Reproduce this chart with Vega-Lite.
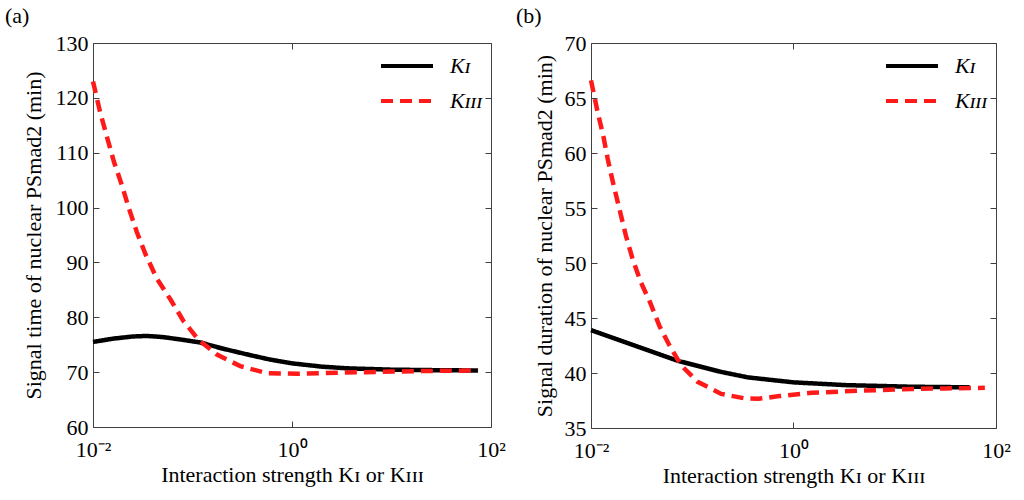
{
  "$schema": "https://vega.github.io/schema/vega-lite/v6.json",
  "background": "#ffffff",
  "padding": {"left": 5, "top": 5, "right": 5, "bottom": 5},
  "spacing": 10,
  "resolve": {"legend": {"color": "independent", "strokeDash": "independent"}},
  "config": {
    "font": "Liberation Serif",
    "view": {"stroke": null},
    "axis": {
      "grid": false,
      "domainColor": "#404040",
      "tickColor": "#404040",
      "tickSize": -6,
      "labelFont": "Liberation Serif",
      "titleFont": "Liberation Serif",
      "labelFontSize": 22,
      "titleFontSize": 22,
      "labelColor": "#000000",
      "titleColor": "#000000",
      "titleFontWeight": "normal",
      "labelPadding": 11
    },
    "legend": {
      "labelFont": "Liberation Serif",
      "labelFontSize": 22,
      "labelFontStyle": "italic",
      "labelColor": "#000000",
      "symbolType": "M-2,0H2",
      "symbolSize": 676,
      "symbolStrokeWidth": 4,
      "labelOffset": 28,
      "rowPadding": 9
    },
    "title": {"font": "Liberation Serif", "fontSize": 22, "fontWeight": "normal", "anchor": "start", "frame": "bounds", "dx": -17, "offset": 4}
  },
  "datasets": {
    "curves": [
      {"panel": "a", "series": "K_I", "x": 0.01, "y": 75.5},
      {"panel": "a", "series": "K_I", "x": 0.0158, "y": 76.1},
      {"panel": "a", "series": "K_I", "x": 0.0251, "y": 76.5},
      {"panel": "a", "series": "K_I", "x": 0.0347, "y": 76.6},
      {"panel": "a", "series": "K_I", "x": 0.05, "y": 76.4},
      {"panel": "a", "series": "K_I", "x": 0.0794, "y": 75.9},
      {"panel": "a", "series": "K_I", "x": 0.12, "y": 75.4},
      {"panel": "a", "series": "K_I", "x": 0.2, "y": 74.3},
      {"panel": "a", "series": "K_I", "x": 0.38, "y": 73.1},
      {"panel": "a", "series": "K_I", "x": 0.6, "y": 72.3},
      {"panel": "a", "series": "K_I", "x": 1.0, "y": 71.6},
      {"panel": "a", "series": "K_I", "x": 2.0, "y": 71.0},
      {"panel": "a", "series": "K_I", "x": 3.55, "y": 70.7},
      {"panel": "a", "series": "K_I", "x": 10, "y": 70.45},
      {"panel": "a", "series": "K_I", "x": 31.6, "y": 70.35},
      {"panel": "a", "series": "K_I", "x": 74.1, "y": 70.3},
      {"panel": "a", "series": "K_III", "x": 0.01, "y": 123.0},
      {"panel": "a", "series": "K_III", "x": 0.01175, "y": 117.5},
      {"panel": "a", "series": "K_III", "x": 0.0138, "y": 112.9},
      {"panel": "a", "series": "K_III", "x": 0.0162, "y": 108.4},
      {"panel": "a", "series": "K_III", "x": 0.0195, "y": 104.1},
      {"panel": "a", "series": "K_III", "x": 0.0229, "y": 99.9},
      {"panel": "a", "series": "K_III", "x": 0.0275, "y": 95.6},
      {"panel": "a", "series": "K_III", "x": 0.0339, "y": 91.4},
      {"panel": "a", "series": "K_III", "x": 0.0437, "y": 87.1},
      {"panel": "a", "series": "K_III", "x": 0.0603, "y": 83.2},
      {"panel": "a", "series": "K_III", "x": 0.0813, "y": 79.3},
      {"panel": "a", "series": "K_III", "x": 0.115, "y": 75.9},
      {"panel": "a", "series": "K_III", "x": 0.176, "y": 73.2},
      {"panel": "a", "series": "K_III", "x": 0.302, "y": 71.1},
      {"panel": "a", "series": "K_III", "x": 0.562, "y": 69.8},
      {"panel": "a", "series": "K_III", "x": 1.12, "y": 69.7},
      {"panel": "a", "series": "K_III", "x": 3.16, "y": 69.9},
      {"panel": "a", "series": "K_III", "x": 10, "y": 70.1},
      {"panel": "a", "series": "K_III", "x": 31.6, "y": 70.25},
      {"panel": "a", "series": "K_III", "x": 74.1, "y": 70.3},
      {"panel": "b", "series": "K_I", "x": 0.01, "y": 43.9},
      {"panel": "b", "series": "K_I", "x": 0.0158, "y": 43.25},
      {"panel": "b", "series": "K_I", "x": 0.0288, "y": 42.4},
      {"panel": "b", "series": "K_I", "x": 0.0724, "y": 41.1},
      {"panel": "b", "series": "K_I", "x": 0.193, "y": 40.1},
      {"panel": "b", "series": "K_I", "x": 0.355, "y": 39.6},
      {"panel": "b", "series": "K_I", "x": 1.0, "y": 39.15},
      {"panel": "b", "series": "K_I", "x": 3.24, "y": 38.9},
      {"panel": "b", "series": "K_I", "x": 14.8, "y": 38.75},
      {"panel": "b", "series": "K_I", "x": 55, "y": 38.7},
      {"panel": "b", "series": "K_III", "x": 0.01, "y": 66.6},
      {"panel": "b", "series": "K_III", "x": 0.01164, "y": 63.7},
      {"panel": "b", "series": "K_III", "x": 0.0132, "y": 61.6},
      {"panel": "b", "series": "K_III", "x": 0.0146, "y": 59.5},
      {"panel": "b", "series": "K_III", "x": 0.0164, "y": 57.4},
      {"panel": "b", "series": "K_III", "x": 0.0191, "y": 54.9},
      {"panel": "b", "series": "K_III", "x": 0.0221, "y": 52.5},
      {"panel": "b", "series": "K_III", "x": 0.0257, "y": 50.4},
      {"panel": "b", "series": "K_III", "x": 0.0309, "y": 48.3},
      {"panel": "b", "series": "K_III", "x": 0.038, "y": 46.5},
      {"panel": "b", "series": "K_III", "x": 0.0473, "y": 44.3},
      {"panel": "b", "series": "K_III", "x": 0.0596, "y": 42.5},
      {"panel": "b", "series": "K_III", "x": 0.0776, "y": 40.7},
      {"panel": "b", "series": "K_III", "x": 0.113, "y": 39.2},
      {"panel": "b", "series": "K_III", "x": 0.193, "y": 38.1},
      {"panel": "b", "series": "K_III", "x": 0.327, "y": 37.7},
      {"panel": "b", "series": "K_III", "x": 0.45, "y": 37.65},
      {"panel": "b", "series": "K_III", "x": 0.724, "y": 37.9},
      {"panel": "b", "series": "K_III", "x": 1.51, "y": 38.2},
      {"panel": "b", "series": "K_III", "x": 4.79, "y": 38.4},
      {"panel": "b", "series": "K_III", "x": 14.8, "y": 38.55},
      {"panel": "b", "series": "K_III", "x": 31.6, "y": 38.6},
      {"panel": "b", "series": "K_III", "x": 77.6, "y": 38.65}
    ]
  },
  "hconcat": [
    {
      "title": {"text": "(a)"},
      "width": 398,
      "height": 384,
      "data": {"name": "curves"},
      "transform": [{"filter": "datum.panel == 'a'"}],
      "layer": [
        {
          "mark": {"type": "line", "strokeWidth": 4.5, "strokeCap": "butt"},
          "encoding": {
            "x": {
              "field": "x", "type": "quantitative",
              "scale": {"type": "log", "domain": [0.01, 100]},
              "axis": {
                "orient": "bottom", "values": [0.01, 1, 100], "labelFlush": false, "labelOverlap": false,
                "labelFontSize": 22, "labelPadding": 18,
                "labelExpr": "datum.value < 0.1 ? '10⁻²' : datum.value < 10 ? '10⁰' : '10²'",
                "title": "Interaction strength  Kɪ  or  Kɪɪɪ", "titlePadding": 4
              }
            },
            "y": {
              "field": "y", "type": "quantitative",
              "scale": {"domain": [60, 130]},
              "axis": {"values": [60, 70, 80, 90, 100, 110, 120, 130], "labelFontSize": 22, "title": "Signal time of nuclear PSmad2 (min)", "titlePadding": 10}
            },
            "color": {
              "field": "series", "type": "nominal",
              "scale": {"domain": ["K_I", "K_III"], "range": ["#000000", "#ff1a1a"]},
              "legend": {"title": null, "orient": "top-right", "offset": 8, "labelExpr": "datum.label == 'K_I' ? 'Kɪ' : 'Kɪɪɪ'"}
            },
            "strokeDash": {
              "field": "series", "type": "nominal",
              "scale": {"domain": ["K_I", "K_III"], "range": [[1, 0], [12, 7]]},
              "legend": {"title": null, "orient": "top-right", "offset": 8, "labelExpr": "datum.label == 'K_I' ? 'Kɪ' : 'Kɪɪɪ'"}
            }
          }
        },
        {
          "mark": {"type": "line", "opacity": 0},
          "encoding": {
            "x": {"field": "x", "type": "quantitative", "axis": {"orient": "top", "values": [0.01, 1, 100], "labels": false, "title": null}},
            "y": {"field": "y", "type": "quantitative", "axis": {"orient": "right", "values": [60, 70, 80, 90, 100, 110, 120, 130], "labels": false, "title": null}},
            "detail": {"field": "series"}
          }
        }
      ],
      "resolve": {"axis": {"x": "independent", "y": "independent"}}
    },
    {
      "title": {"text": "(b)"},
      "width": 405,
      "height": 385,
      "data": {"name": "curves"},
      "transform": [{"filter": "datum.panel == 'b'"}],
      "layer": [
        {
          "mark": {"type": "line", "strokeWidth": 4.5, "strokeCap": "butt"},
          "encoding": {
            "x": {
              "field": "x", "type": "quantitative",
              "scale": {"type": "log", "domain": [0.01, 100]},
              "axis": {
                "orient": "bottom", "values": [0.01, 1, 100], "labelFlush": false, "labelOverlap": false,
                "labelFontSize": 22, "labelPadding": 18,
                "labelExpr": "datum.value < 0.1 ? '10⁻²' : datum.value < 10 ? '10⁰' : '10²'",
                "title": "Interaction strength  Kɪ or Kɪɪɪ", "titlePadding": 4
              }
            },
            "y": {
              "field": "y", "type": "quantitative",
              "scale": {"domain": [35, 70]},
              "axis": {"values": [35, 40, 45, 50, 55, 60, 65, 70], "labelFontSize": 22, "title": "Signal duration of nuclear PSmad2 (min)", "titlePadding": 8}
            },
            "color": {
              "field": "series", "type": "nominal",
              "scale": {"domain": ["K_I", "K_III"], "range": ["#000000", "#ff1a1a"]},
              "legend": {"title": null, "orient": "top-right", "offset": 8, "labelExpr": "datum.label == 'K_I' ? 'Kɪ' : 'Kɪɪɪ'"}
            },
            "strokeDash": {
              "field": "series", "type": "nominal",
              "scale": {"domain": ["K_I", "K_III"], "range": [[1, 0], [12, 7]]},
              "legend": {"title": null, "orient": "top-right", "offset": 8, "labelExpr": "datum.label == 'K_I' ? 'Kɪ' : 'Kɪɪɪ'"}
            }
          }
        },
        {
          "mark": {"type": "line", "opacity": 0},
          "encoding": {
            "x": {"field": "x", "type": "quantitative", "axis": {"orient": "top", "values": [0.01, 1, 100], "labels": false, "title": null}},
            "y": {"field": "y", "type": "quantitative", "axis": {"orient": "right", "values": [35, 40, 45, 50, 55, 60, 65, 70], "labels": false, "title": null}},
            "detail": {"field": "series"}
          }
        }
      ],
      "resolve": {"axis": {"x": "independent", "y": "independent"}}
    }
  ]
}
